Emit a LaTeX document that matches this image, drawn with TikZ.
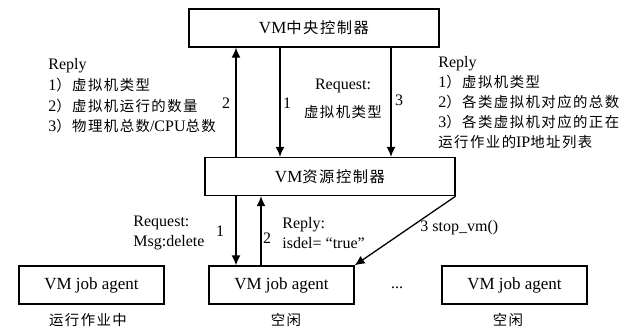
\documentclass[tikz,border=0pt]{standalone}
\usepackage{fontspec}
\setmainfont{Liberation Serif}
\newfontfamily\cjk[Scale=0.9,LetterSpace=10]{Noto Sans CJK SC}
\newcommand{\zh}[1]{{\cjk #1}}
\usetikzlibrary{arrows.meta}
\tikzset{
  box/.style={draw, line width=0.65pt, minimum height=19pt, inner sep=0pt, font={\fontsize{8.5}{10}\selectfont}},
  lbl/.style={inner sep=0pt, font={\fontsize{8}{10}\selectfont}},
  arr/.style={line width=0.65pt, -{Latex[length=5pt,width=4.5pt]}},
}
\begin{document}
\begin{tikzpicture}[x=0.5pt, y=-0.5pt]
    \useasboundingbox (0,0) rectangle (632,329);
    % controllers
    \node[box, minimum width=125pt] (central) at (314,28) {VM\zh{中央控制器}};
    \node[box, minimum width=125pt] (resource) at (330,176.5) {VM\zh{资源控制器}};
    % job agents
    \foreach \x/\lx/\state [count=\n] in {91.5/88/运行作业中, 281.5/286/空闲, 514.5/508/空闲} {
      \node[box, minimum width=72.5pt] (agent\n) at (\x,285) {VM job agent};
      \node[lbl] (state\n) at (\lx,320) {\zh{\state}};
    }
    \node[lbl] (dots) at (397,288) {...};
    % central <-> resource
    \draw[arr] (resource.north -| 236,0) -- (central.south -| 236,0);
    \draw[arr] (central.south -| 280,0) -- (resource.north -| 280,0);
    \draw[arr] (central.south -| 391,0) -- (resource.north -| 391,0);
    \node[lbl] (num2) at (226,103) {2};
    \node[lbl] (num1) at (287,103) {1};
    \node[lbl] (num3) at (399,100) {3};
    \node[lbl, align=center, font={\fontsize{8}{14}\selectfont}] (request) at (343,99) {Request:\\\zh{虚拟机类型}};
    \node[lbl, align=left, anchor=west, font={\fontsize{8}{10.3}\selectfont}] (replyL) at (48,96)
      {Reply\\1\zh{）虚拟机类型}\\2\zh{）虚拟机运行的数量}\\3\zh{）物理机总数}/CPU\zh{总数}};
    \node[lbl, align=left, anchor=west, font={\fontsize{8}{10.1}\selectfont}] (replyR) at (438,102.5)
      {Reply\\1\zh{）虚拟机类型}\\2\zh{）各类虚拟机对应的总数}\\3\zh{）各类虚拟机对应的正在}\\\zh{运行作业的}IP\zh{地址列表}};
    % resource <-> agents
    \draw[arr] (resource.south -| 236,0) -- (agent2.north -| 236,0);
    \draw[arr] (agent2.north -| 261,0) -- (resource.south -| 261,0);
    \draw[arr] (resource.south east) -- (agent2.north east);
    \node[lbl, align=left, anchor=west] (delete) at (133,233) {Request:\\Msg:delete};
    \node[lbl] (del1) at (220,231) {1};
    \node[lbl] (del2) at (267,238) {2};
    \node[lbl, align=left, anchor=west] (isdel) at (282,233) {Reply:\\isdel=~“true”};
    \node[lbl, anchor=west] (stop) at (420,228) {3 stop\_vm()};
\end{tikzpicture}
\end{document}
